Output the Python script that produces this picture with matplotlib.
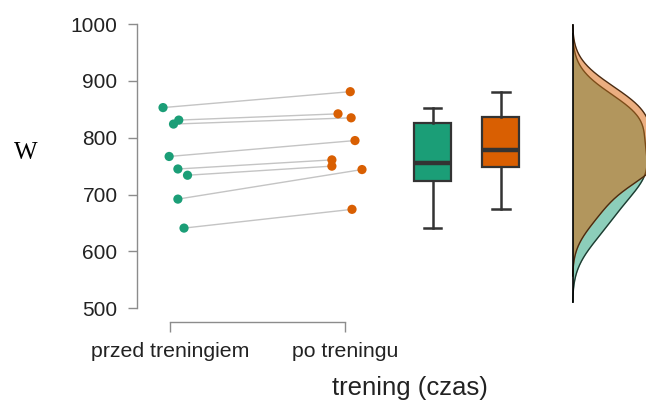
import numpy as np
import matplotlib.pyplot as plt

# W values per athlete, before / after training (paired by index)
przed = [853, 831, 824, 767, 745, 734, 692, 641]
po = [881, 842, 835, 795, 761, 750, 744, 674]
kategorie = ["przed treningiem", "po treningu"]
y_ticks = [500, 600, 700, 800, 900, 1000]

# horizontal jitter of the points (layout only)
jitter_przed = [-0.04, 0.05, 0.02, -0.005, 0.045, 0.1, 0.045, 0.08]
jitter_po = [0.03, -0.04, 0.035, 0.057, -0.075, -0.075, 0.097, 0.04]

green = "#1b9e77"
orange = "#d95f02"


def bw_nrd0(x):
    x = np.asarray(x, dtype=float)
    sd = np.std(x, ddof=1)
    iqr = np.subtract(*np.percentile(x, [75, 25]))
    return 0.9 * min(sd, iqr / 1.34) * len(x) ** -0.2


def kde(x, cut=3, n=512):
    x = np.asarray(x, dtype=float)
    h = bw_nrd0(x)
    grid = np.linspace(x.min() - cut * h, x.max() + cut * h, n)
    z = (grid[:, None] - x[None, :]) / h
    d = np.exp(-0.5 * z**2).sum(axis=1) / (len(x) * h * np.sqrt(2 * np.pi))
    return grid, d


plt.rcParams["font.family"] = ["Liberation Sans", "DejaVu Sans"]
fig = plt.figure(figsize=(6.46, 4.01), dpi=100)
ax = fig.add_axes([0.2121, 0.1973, 0.7879, 0.7456])

x1, x2 = 1.0, 2.0
# paired lines
for a, b, ja, jb in zip(przed, po, jitter_przed, jitter_po):
    ax.plot([x1 + ja, x2 + jb], [a, b], color="#c4c4c4", lw=1, zorder=1)

ax.scatter([x1 + j for j in jitter_przed], przed, s=44, color=green,
           edgecolors="none", zorder=3)
ax.scatter([x2 + j for j in jitter_po], po, s=44, color=orange,
           edgecolors="none", zorder=3)

# boxplots
bp = ax.boxplot([przed, po], positions=[2.5, 2.89], widths=0.21,
                whis=(0, 100), patch_artist=True, showfliers=False,
                capwidths=0.1, manage_ticks=False)
for patch, c in zip(bp["boxes"], [green, orange]):
    patch.set_facecolor(c)
    patch.set_edgecolor("#333333")
    patch.set_linewidth(1.6)
for el in bp["whiskers"] + bp["caps"]:
    el.set_color("#333333")
    el.set_linewidth(1.8)
for el in bp["medians"]:
    el.set_color("#333333")
    el.set_linewidth(3.2)

# half densities
base = 3.3
scale = 98.0
for vals, c, ec in [(przed, green, "#1f3a30"), (po, orange, "#4a2a10")]:
    g, d = kde(vals)
    ax.fill_betweenx(g, base, base + scale * d, color=c, alpha=0.5,
                     lw=0, zorder=2)
    ax.plot(base + scale * d, g, color=ec, lw=1.0, zorder=2)
gmin = min(kde(przed)[0].min(), kde(po)[0].min())
gmax = max(kde(przed)[0].max(), kde(po)[0].max())
ax.plot([base, base], [gmin, gmax], color="black", lw=1.2, zorder=2)

ax.set_xlim(0.8114, 3.72)
ax.set_ylim(476, 1002)

for s in ["top", "right"]:
    ax.spines[s].set_visible(False)
ax.spines["left"].set_bounds(500, 1000)
ax.spines["bottom"].set_bounds(1, 2)
for s in ["left", "bottom"]:
    ax.spines[s].set_color("#8c8c8c")
    ax.spines[s].set_linewidth(1)

ax.set_yticks(y_ticks)
ax.set_xticks([x1, x2])
ax.set_xticklabels(kategorie)
ax.tick_params(axis="y", length=6.5, width=1, color="#8c8c8c", pad=7.5,
               labelsize=15, labelcolor="#222222")
ax.tick_params(axis="x", length=7.5, width=1, color="#8c8c8c", pad=7,
               labelsize=15.3, labelcolor="#222222")

fig.text(26 / 646, 1 - 153 / 401, "W", family="Liberation Serif",
         fontsize=18, ha="center", va="center")
fig.text(410 / 646, 1 - 388 / 401, "trening (czas)", fontsize=18.5,
         color="#222222", ha="center", va="center")

fig.savefig("out.png", dpi=100)
